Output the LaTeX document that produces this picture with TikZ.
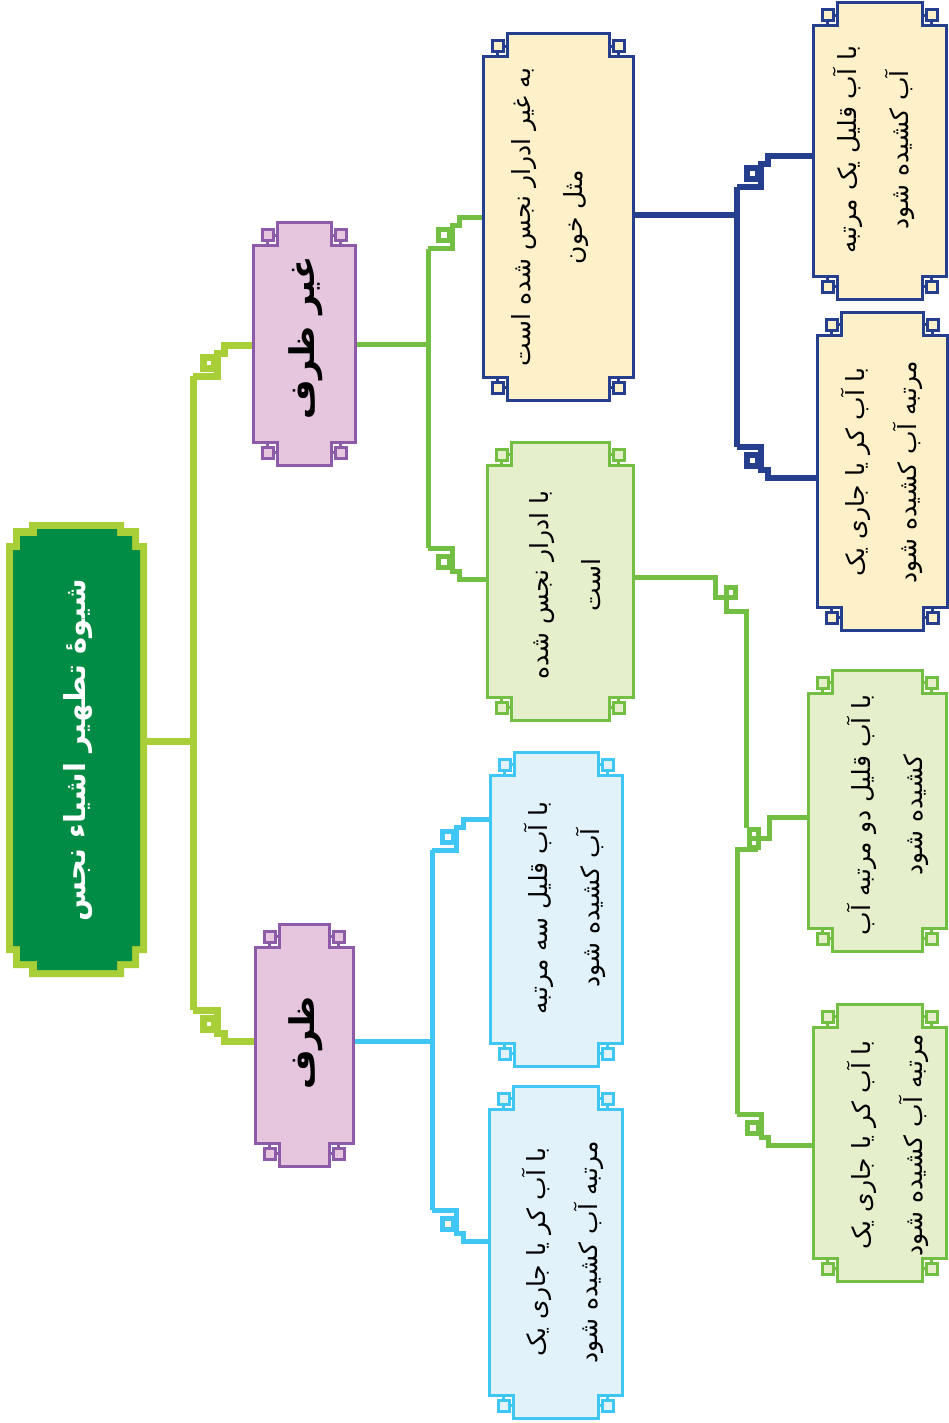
\documentclass[tikz,border=0pt]{standalone}
\usepackage{fontspec}
\newfontfamily\arabicfont[Script=Arabic]{DejaVu Sans}
\TeXXeTstate=1
\definecolor{ygreen}{HTML}{A8CF38}
\definecolor{dgreen}{HTML}{008C44}
\definecolor{purp}{HTML}{8E5BA8}
\definecolor{pinkf}{HTML}{E6C5DF}
\definecolor{navy}{HTML}{253F8E}
\definecolor{cream}{HTML}{FEF0C8}
\definecolor{lgreen}{HTML}{72BF44}
\definecolor{lgreenf}{HTML}{E6EFCB}
\definecolor{cyanb}{HTML}{40C6F2}
\definecolor{bluef}{HTML}{E1F2FB}
% key-frame box: x1,y1,x2,y2 (main body), draw colour, fill colour
\newcommand\kbox[6]{%
  \filldraw[draw=#5, fill=#6, line width=3pt, line join=miter]
    (#1,#2) -- ({#1+24},#2) -- ({#1+24},{#2-23}) -- ({#3-24},{#2-23}) -- ({#3-24},#2) -- (#3,#2)
    -- (#3,#4) -- ({#3-24},#4) -- ({#3-24},{#4+23}) -- ({#1+24},{#4+23}) -- ({#1+24},#4) -- (#1,#4) -- cycle;
  \foreach \cx/\cy/\sx/\sy in {#1/#2/1/-1, #3/#2/-1/-1, #1/#4/1/1, #3/#4/-1/1}{%
    \draw[#5, line width=3pt] ({\cx+\sx*20},{\cy+\sy*10.5}) -- ({\cx+\sx*24},{\cy+\sy*10.5});
    \draw[#5, line width=3pt] ({\cx+\sx*14.5},{\cy+\sy*5}) -- ({\cx+\sx*14.5},\cy);
    \filldraw[draw=#5, fill=#6, line width=3pt] ({\cx+\sx*9},{\cy+\sy*5}) rectangle ({\cx+\sx*20},{\cy+\sy*16});
  }%
}
% ornament connector: trunk x, trunk-end y, sign, box x, colour, width
\newcommand\orn[6]{%
  \draw[#5, line width=#6pt, line join=miter] (#1,#2) -- ({#1+24},#2) -- ({#1+24},{#2+(#3)*23})
    -- ({#1+31},{#2+(#3)*23}) -- ({#1+31},{#2+(#3)*31}) -- (#4,{#2+(#3)*31});
  \draw[#5, line width=#6pt] ({#1+10},{#2+(#3)*8}) rectangle ({#1+21},{#2+(#3)*19});
}
\tikzset{
  txt/.style={rotate=90, align=center, inner sep=0pt, text=black,
    font=\arabicfont\fontsize{25}{52}\selectfont},
  ttl/.style={rotate=90, align=center, inner sep=0pt, text=black,
    font=\arabicfont\bfseries\fontsize{34}{40}\selectfont},
  roottxt/.style={rotate=90, align=center, inner sep=0pt, text=white,
    font=\arabicfont\bfseries\fontsize{29}{36}\selectfont},
}
\begin{document}
\begin{tikzpicture}[x=1pt,y=-1pt]
\useasboundingbox (0,0) rectangle (949,1423);

% ---------- connectors ----------
\coordinate (rootE) at (147,741);
\coordinate (rootT) at (193,741);
\coordinate (nzE) at (355,344);
\coordinate (nzT) at (428,344);
\coordinate (zE) at (353,1041);
\coordinate (zT) at (432,1041);
\coordinate (b4E) at (633,215);
\coordinate (b4T) at (737,215);
\coordinate (b5E) at (633,577);

\draw[ygreen, line width=7pt] (rootE) -- (rootT);
\draw[ygreen, line width=7pt] (193,376) -- (193,1010);
\orn{193}{376}{-1}{253}{ygreen}{7}
\orn{193}{1010}{1}{255}{ygreen}{7}

\draw[lgreen, line width=5pt] (nzE) -- (nzT);
\draw[lgreen, line width=5pt] (428,249) -- (428,548);
\orn{428}{249}{-1}{483}{lgreen}{5}
\orn{428}{548}{1}{487}{lgreen}{5}

\draw[cyanb, line width=5pt] (zE) -- (zT);
\draw[cyanb, line width=5pt] (432,850) -- (432,1210);
\orn{432}{850}{-1}{490}{cyanb}{5}
\orn{432}{1210}{1}{489}{cyanb}{5}

\draw[navy, line width=5.5pt] (b4E) -- (b4T);
\draw[navy, line width=5.5pt] (737,187) -- (737,447);
\orn{737}{187}{-1}{813}{navy}{5.5}
\orn{737}{447}{1}{817}{navy}{5.5}

% green connector from box 5
\draw[lgreen, line width=5pt, line join=miter] (b5E) -- (715,577) -- (715,597) -- (726,597);
\draw[lgreen, line width=5pt] (726,587) rectangle (735,597);
\draw[lgreen, line width=5pt, line join=miter] (726,597) -- (726,611) -- (746,611) -- (746,828);
\draw[lgreen, line width=5pt] (749,829) rectangle (758,847);
\draw[lgreen, line width=5pt] (749,838) -- (758,838);
\draw[lgreen, line width=5pt, line join=miter] (758,838) -- (769,838) -- (769,817) -- (808,817);
\draw[lgreen, line width=5pt, line join=miter] (737,1114) -- (737,849) -- (758,849);
\orn{737}{1114}{1}{813}{lgreen}{5}

% ---------- root ----------
\fill[ygreen] (29,522) -- (124,522) -- (124,528) -- (139,528) -- (139,543) -- (147,543) -- (147,953)
  -- (139,953) -- (139,968) -- (124,968) -- (124,977) -- (29,977) -- (29,968) -- (13,968)
  -- (13,953) -- (6,953) -- (6,543) -- (13,543) -- (13,528) -- (29,528) -- cycle;
\fill[dgreen] (37,529) -- (117,529) -- (117,536) -- (132,536) -- (132,550) -- (140,550) -- (140,946)
  -- (132,946) -- (132,961) -- (117,961) -- (117,970) -- (37,970) -- (37,961) -- (20,961)
  -- (20,946) -- (13,946) -- (13,550) -- (20,550) -- (20,536) -- (37,536) -- cycle;
\node[roottxt] (root) at (78,750) {\beginR شیوهٔ تطهیر اشیاء نجس\endR};

% ---------- level 1 ----------
\kbox{253}{246}{355}{442}{purp}{pinkf}
\node[ttl] (nz) at (306,338) {\beginR غیر ظرف\endR};
\kbox{255}{947}{353}{1143}{purp}{pinkf}
\node[ttl] (z) at (306,1043) {\beginR ظرف\endR};

% ---------- level 2 ----------
\kbox{483}{57}{633}{377}{navy}{cream}
\node[txt] (b4) at (550,217) {\beginR به غیر ادرار نجس شده است\endR\\\beginR مثل خون\endR};
\kbox{487}{465}{633}{697}{lgreen}{lgreenf}
\node[txt] (b5) at (565,585) {\beginR با ادرار نجس شده\endR\\\beginR است\endR};
\kbox{490}{775}{622}{1043}{cyanb}{bluef}
\node[txt] (b6) at (565,908) {\beginR با آب قلیل سه مرتبه\endR\\\beginR آب کشیده شود\endR};
\kbox{489}{1109}{622}{1395}{cyanb}{bluef}
\node[txt] (b7) at (563,1252) {\beginR با آب کر یا جاری یک\endR\\\beginR مرتبه آب کشیده شود\endR};

% ---------- level 3 ----------
\kbox{813}{26}{946}{276}{navy}{cream}
\node[txt] (b8) at (874,150) {\beginR با آب قلیل یک مرتبه\endR\\\beginR آب کشیده شود\endR};
\kbox{817}{335}{947}{607}{navy}{cream}
\node[txt] (b9) at (882,472) {\beginR با آب کر یا جاری یک\endR\\\beginR مرتبه آب کشیده شود\endR};
\kbox{808}{693}{946}{928}{lgreen}{lgreenf}
\node[txt] (b10) at (888,815) {\beginR با آب قلیل دو مرتبه آب\endR\\\beginR کشیده شود\endR};
\kbox{813}{1027}{946}{1258}{lgreen}{lgreenf}
\node[txt] (b11) at (888,1145) {\beginR با آب کر یا جاری یک\endR\\\beginR مرتبه آب کشیده شود\endR};
\end{tikzpicture}
\end{document}
